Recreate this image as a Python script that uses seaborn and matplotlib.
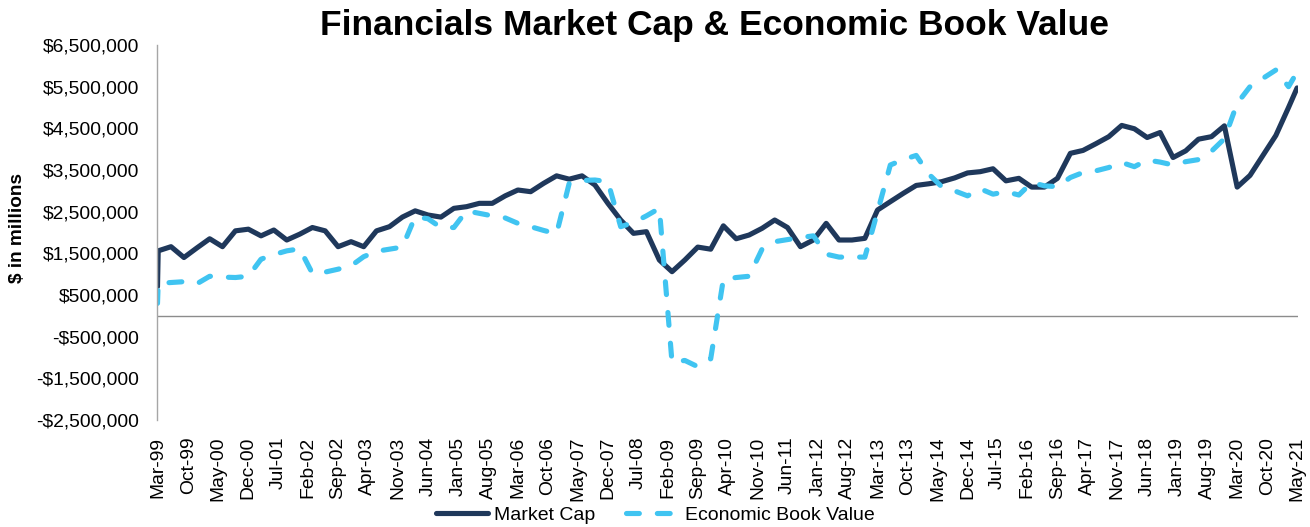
import numpy as np
import pandas as pd
import seaborn as sns
import matplotlib
matplotlib.use("Agg")
import matplotlib.pyplot as plt
from matplotlib.ticker import FuncFormatter

# values in $ trillions (axis is $ millions)
# first entry = odd low starting point, then quarter ends Mar-99..Mar-21, then May-21
market_cap = [0.70,
              1.56, 1.66, 1.40, 1.63, 1.85, 1.66, 2.04, 2.08,
              1.92, 2.06, 1.82, 1.96, 2.12, 2.04, 1.66, 1.78,
              1.66, 2.04, 2.14, 2.37, 2.52, 2.42, 2.37, 2.58,
              2.62, 2.70, 2.70, 2.88, 3.02, 2.98, 3.18, 3.36,
              3.28, 3.36, 3.14, 2.70, 2.30, 1.98, 2.02, 1.34,
              1.06, 1.34, 1.65, 1.60, 2.16, 1.85, 1.94, 2.10,
              2.30, 2.12, 1.66, 1.82, 2.22, 1.82, 1.82, 1.86,
              2.54, 2.74, 2.94, 3.13, 3.17, 3.22, 3.31, 3.43,
              3.46, 3.53, 3.24, 3.30, 3.09, 3.09, 3.30, 3.90,
              3.97, 4.13, 4.30, 4.57, 4.49, 4.28, 4.40, 3.80,
              3.96, 4.24, 4.30, 4.56, 3.09, 3.37, 3.85, 4.33,
              5.00, 5.47]

economic_book_value = [0.30,
                       0.78, 0.80, 0.82, 0.77, 0.95, 0.93, 0.92, 0.95,
                       1.36, 1.47, 1.56, 1.61, 1.02, 1.05, 1.12, 1.20,
                       1.42, 1.55, 1.60, 1.65, 2.38, 2.33, 2.12, 2.12,
                       2.52, 2.46, 2.40, 2.35, 2.22, 2.14, 2.05, 1.97,
                       3.18, 3.25, 3.26, 3.22, 2.14, 2.24, 2.40, 2.58,
                       -1.12, -1.07, -1.22, -1.03, 0.88, 0.92, 0.95, 1.60,
                       1.78, 1.83, 1.88, 1.92, 1.48, 1.41, 1.41, 1.41,
                       2.50, 3.62, 3.75, 3.85, 3.40, 3.10, 3.00, 2.88,
                       3.05, 2.92, 2.98, 2.90, 3.20, 3.12, 3.10, 3.32,
                       3.44, 3.48, 3.56, 3.68, 3.58, 3.74, 3.69, 3.62,
                       3.70, 3.75, 3.95, 4.25, 5.10, 5.50, 5.70, 5.90,
                       5.50, 5.85]

tick_labels = ["Mar-99", "Oct-99", "May-00", "Dec-00", "Jul-01", "Feb-02", "Sep-02",
               "Apr-03", "Nov-03", "Jun-04", "Jan-05", "Aug-05", "Mar-06", "Oct-06",
               "May-07", "Dec-07", "Jul-08", "Feb-09", "Sep-09", "Apr-10", "Nov-10",
               "Jun-11", "Jan-12", "Aug-12", "Mar-13", "Oct-13", "May-14", "Dec-14",
               "Jul-15", "Feb-16", "Sep-16", "Apr-17", "Nov-17", "Jun-18", "Jan-19",
               "Aug-19", "Mar-20", "Oct-20", "May-21"]

dates = ([pd.Timestamp("1999-03-26")]
         + list(pd.date_range("1999-03-31", "2021-03-31", freq="QE"))
         + [pd.Timestamp("2021-05-31")])

df = pd.concat([
    pd.DataFrame({"date": dates, "value": market_cap, "series": "Market Cap"}),
    pd.DataFrame({"date": dates, "value": economic_book_value, "series": "Economic Book Value"}),
])
df["value"] = df["value"] * 1e6

sns.set_style("white")
plt.rcParams["font.family"] = ["Liberation Sans", "DejaVu Sans"]
plt.rcParams["text.color"] = "black"

navy = "#1F385B"
light = "#40C4F1"

fig = plt.figure(figsize=(13.1, 5.27), dpi=100)
ax = fig.add_axes([0.1198, 0.203, 0.8710, 0.7116])

sns.lineplot(data=df, x="date", y="value", hue="series", style="series",
             palette={"Market Cap": navy, "Economic Book Value": light},
             dashes={"Market Cap": "", "Economic Book Value": (2.5, 3.5)},
             linewidth=3.7, estimator=None, ax=ax)

for line in ax.lines:
    line.set_dash_capstyle("round")
    line.set_solid_capstyle("round")
    line.set_solid_joinstyle("round")
    line.set_dash_joinstyle("round")

ax.axhline(0, color="#8C8C8C", lw=1, zorder=0)

ax.set_ylim(-2.5e6, 6.5e6)
ax.set_yticks(np.arange(-2.5e6, 6.6e6, 1e6))
ax.yaxis.set_major_formatter(FuncFormatter(
    lambda v, p: f"${v:,.0f}" if v >= 0 else f"-${-v:,.0f}"))

tick_dates = [pd.to_datetime(t, format="%b-%y") + pd.offsets.MonthEnd(0) for t in tick_labels]
ax.set_xticks(tick_dates)
ax.set_xticklabels(tick_labels, rotation=90)
ax.set_xlim(pd.Timestamp("1999-03-22"), pd.Timestamp("2021-06-06"))

ax.tick_params(axis="y", labelsize=13.9, pad=13, length=0, colors="black")
ax.tick_params(axis="x", labelsize=13.9, pad=12, length=0, colors="black")
ax.set_xlabel("")
ax.set_ylabel("")

for s in ["top", "right", "bottom"]:
    ax.spines[s].set_visible(False)
ax.spines["left"].set_color("#A6A6A6")
ax.spines["left"].set_linewidth(1)

handles, labels = ax.get_legend_handles_labels()
ax.get_legend().remove()
for h in handles:
    h.set_dash_capstyle("round")
    h.set_solid_capstyle("round")
leg = fig.legend(handles, labels, loc="center", bbox_to_anchor=(655 / 1310, 1 - 515 / 527),
                 ncol=2, frameon=False, fontsize=14, handlelength=2.7,
                 handletextpad=0.3, columnspacing=1.6)
for t in leg.get_texts():
    t.set_color("black")

fig.text(715 / 1310, 1 - 35 / 527, "Financials Market Cap & Economic Book Value",
         ha="center", va="baseline", fontsize=25.5, fontweight="bold", color="black")
fig.text(18 / 1310, 1 - 228 / 527, "$ in millions", rotation=90,
         ha="center", va="center", fontsize=13.7, fontweight="bold", color="black")

fig.savefig("out.png", dpi=100)
